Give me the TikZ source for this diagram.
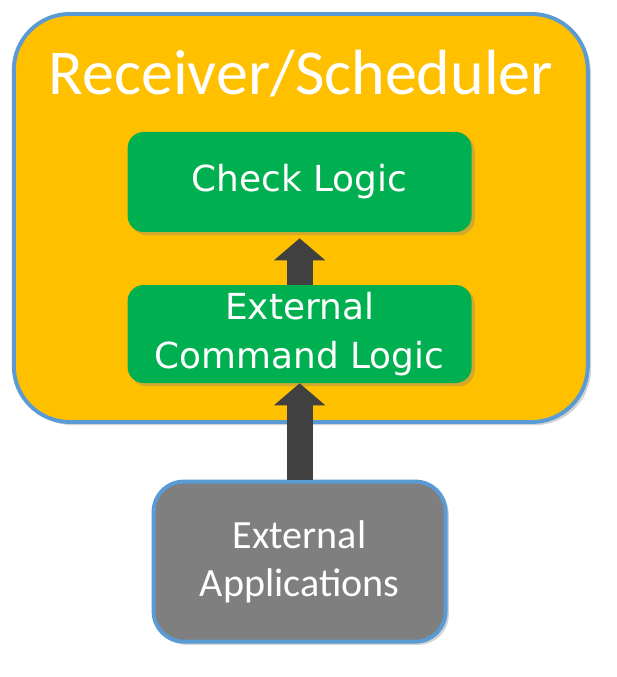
\documentclass[tikz,border=0pt]{standalone}
\usepackage{fontspec}
\usepackage{tikz}
\usetikzlibrary{arrows.meta, shadows}

\newfontfamily\titlefont{Carlito}
\newfontfamily\boxfont{DejaVu Sans}

\definecolor{schedyellow}{HTML}{FFC000}
\definecolor{logicgreen}{HTML}{00B050}
\definecolor{appgray}{HTML}{7F7F7F}
\definecolor{rimblue}{HTML}{5B9BD5}
\definecolor{arrowgray}{HTML}{404040}

\tikzset{
  outerbox/.style={draw=rimblue, line width=2.8pt, fill=schedyellow, rounded corners=1.4cm,
    minimum width=14.35cm, minimum height=10.2cm,
    drop shadow={opacity=0.35, shadow xshift=0.08cm, shadow yshift=-0.08cm}},
  logicbox/.style={fill=logicgreen, rounded corners=0.4cm, text=white, align=center,
    minimum width=8.6cm, minimum height=2.45cm, font=\boxfont\fontsize{25.5}{35}\selectfont,
    drop shadow={opacity=0.35, shadow xshift=0.08cm, shadow yshift=-0.08cm}},
  appbox/.style={draw=rimblue, line width=2.8pt, fill=appgray, rounded corners=0.75cm,
    text=white, align=center, minimum width=7.3cm, minimum height=4.0cm,
    font=\titlefont\fontsize{28.5}{34}\selectfont,
    drop shadow={opacity=0.35, shadow xshift=0.08cm, shadow yshift=-0.08cm}},
  flowarrow/.style={arrowgray, line width=0.65cm, -{Triangle[width=1.25cm, length=0.55cm]}}
}

\begin{document}
\begin{tikzpicture}
\useasboundingbox (0,0) rectangle (15.4,-16.925);

% Receiver/Scheduler frame
\node[outerbox] (sched) at (7.52,-5.45) {};
\node[text=white, anchor=base, font=\titlefont\fontsize{45.5}{45.5}\selectfont] (title) at (7.52,-2.375) {Receiver/Scheduler};

% Logic blocks
\node[logicbox, minimum height=2.5cm] (check) at (7.49,-4.55) {Check Logic};
\node[logicbox] (ecl) at (7.49,-8.35) {External\\Command Logic};

% Outside source
\node[appbox] (apps) at (7.49,-14.04) {External\\Applications};

% Arrows
\draw[flowarrow] (ecl.north) -- ([yshift=-0.15cm]check.south);
\draw[flowarrow] (apps.north) -- (ecl.south);
\end{tikzpicture}
\end{document}
